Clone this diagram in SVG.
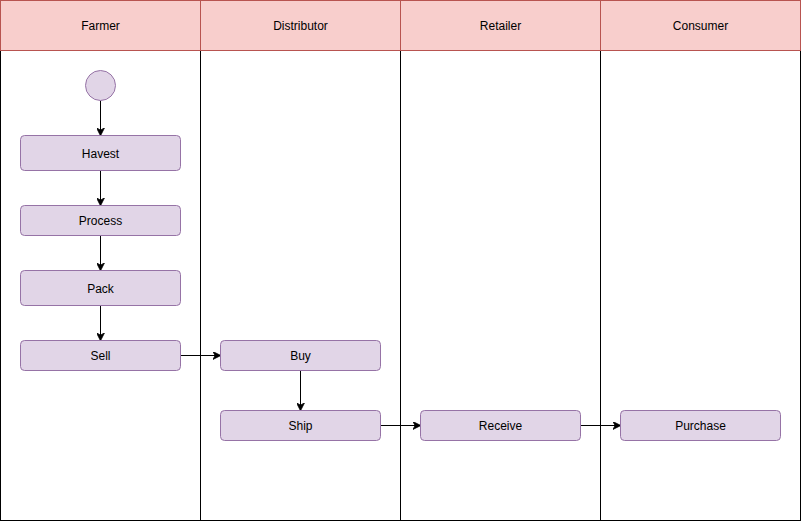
<svg xmlns="http://www.w3.org/2000/svg" width="801" height="521" viewBox="0 0 801 521">
  <defs>
    <style>
      .lane { fill: #ffffff; stroke: #000000; stroke-width: 1; }
      .head { fill: #f8cecc; stroke: #b85450; stroke-width: 1; }
      .node { fill: #e1d5e7; stroke: #9673a6; stroke-width: 1; }
      .label { font-family: "Liberation Sans", Arial, sans-serif; font-size: 12px; fill: #000000; text-anchor: middle; dominant-baseline: central; }
      .edge { fill: none; stroke: #000000; stroke-width: 1; }
    </style>
    <marker id="arrow" viewBox="0 0 10 10" refX="9" refY="5" markerWidth="8" markerHeight="8" markerUnits="userSpaceOnUse" orient="auto">
      <path d="M0,0 L10,5 L0,10 L3,5 Z" fill="#000000" stroke="#000000" stroke-width="1"/>
    </marker>
  </defs>

  <rect width="801" height="521" fill="#ffffff"/>

  <!-- swimlanes -->
  <g id="lane-farmer">
    <rect class="lane" x="0.5" y="50.5" width="200" height="470"/>
    <rect class="head" x="0.5" y="0.5" width="200" height="50"/>
    <text class="label" x="100.5" y="25.5">Farmer</text>
  </g>
  <g id="lane-distributor">
    <rect class="lane" x="200.5" y="50.5" width="200" height="470"/>
    <rect class="head" x="200.5" y="0.5" width="200" height="50"/>
    <text class="label" x="300.5" y="25.5">Distributor</text>
  </g>
  <g id="lane-retailer">
    <rect class="lane" x="400.5" y="50.5" width="200" height="470"/>
    <rect class="head" x="400.5" y="0.5" width="200" height="50"/>
    <text class="label" x="500.5" y="25.5">Retailer</text>
  </g>
  <g id="lane-consumer">
    <rect class="lane" x="600.5" y="50.5" width="200" height="470"/>
    <rect class="head" x="600.5" y="0.5" width="200" height="50"/>
    <text class="label" x="700.5" y="25.5">Consumer</text>
  </g>

  <!-- connectors -->
  <g id="connectors">
    <path class="edge" marker-end="url(#arrow)" d="M100.5,100.5 L100.5,135"/>
    <path class="edge" marker-end="url(#arrow)" d="M100.5,170.5 L100.5,205"/>
    <path class="edge" marker-end="url(#arrow)" d="M100.5,235.5 L100.5,270"/>
    <path class="edge" marker-end="url(#arrow)" d="M100.5,305.5 L100.5,340"/>
    <path class="edge" marker-end="url(#arrow)" d="M180.5,355.5 L220,355.5"/>
    <path class="edge" marker-end="url(#arrow)" d="M300.5,370.5 L300.5,410"/>
    <path class="edge" marker-end="url(#arrow)" d="M380.5,425.5 L420,425.5"/>
    <path class="edge" marker-end="url(#arrow)" d="M580.5,425.5 L620,425.5"/>
  </g>

  <!-- nodes -->
  <g id="start">
    <circle class="node" cx="100.5" cy="85.5" r="15"/>
  </g>
  <g id="havest">
    <rect class="node" x="20.5" y="135.5" width="160" height="35" rx="4"/>
    <text class="label" x="100.5" y="154">Havest</text>
  </g>
  <g id="process">
    <rect class="node" x="20.5" y="205.5" width="160" height="30" rx="4"/>
    <text class="label" x="100.5" y="221">Process</text>
  </g>
  <g id="pack">
    <rect class="node" x="20.5" y="270.5" width="160" height="35" rx="4"/>
    <text class="label" x="100.5" y="289">Pack</text>
  </g>
  <g id="sell">
    <rect class="node" x="20.5" y="340.5" width="160" height="30" rx="4"/>
    <text class="label" x="100.5" y="356">Sell</text>
  </g>
  <g id="buy">
    <rect class="node" x="220.5" y="340.5" width="160" height="30" rx="4"/>
    <text class="label" x="300.5" y="356">Buy</text>
  </g>
  <g id="ship">
    <rect class="node" x="220.5" y="410.5" width="160" height="30" rx="4"/>
    <text class="label" x="300.5" y="426">Ship</text>
  </g>
  <g id="receive">
    <rect class="node" x="420.5" y="410.5" width="160" height="30" rx="4"/>
    <text class="label" x="500.5" y="426">Receive</text>
  </g>
  <g id="purchase">
    <rect class="node" x="620.5" y="410.5" width="160" height="30" rx="4"/>
    <text class="label" x="700.5" y="426">Purchase</text>
  </g>
</svg>
